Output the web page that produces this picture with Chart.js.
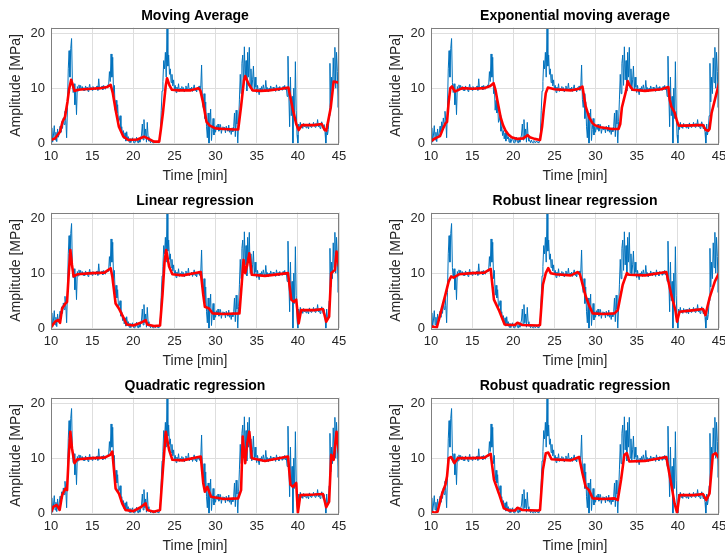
<!DOCTYPE html>
<html>
<head>
<meta charset="utf-8">
<script src="https://cdn.jsdelivr.net/npm/chart.js@4.4.0/dist/chart.umd.min.js"></script>
<style>
  html, body { margin: 0; padding: 0; background: #fff; }
  #wrap { position: relative; width: 725px; height: 560px; overflow: hidden; }
  #wrap canvas { position: absolute; }
</style>
</head>
<body>
<div id="wrap">
  <canvas id="p0"></canvas><canvas id="p1"></canvas>
  <canvas id="p2"></canvas><canvas id="p3"></canvas>
  <canvas id="p4"></canvas><canvas id="p5"></canvas>
</div>
<script>
'use strict';

// ---- data -------------------------------------------------------------
const xTicks = [10, 15, 20, 25, 30, 35, 40, 45];
const yTicks = [0, 10, 20];

// raw signal, sampled every 0.1 min from t = 10 (one row per minute)
const rawStart = 10;
const rawStep = 0.1;
const rawAmp = [
  0.5, 2.8, 0.2, 1.5, 3.2, 0.6, 2.0, 0.3, 2.6, 1.1,
  1.8, 3.1, 2.0, 3.9, 2.7, 4.6, 3.4, 5.8, 4.1, 1.0,
  6.5, 13.5, 16.8, 12.0, 17.2, 19.0, 11.0, 9.2, 10.8, 7.0,
  9.4, 5.2, 10.3, 9.5, 10.6, 9.8, 10.5, 9.7, 10.3, 9.6,
  10.1, 9.5, 10.4, 9.9, 10.2, 9.4, 10.0, 10.7, 9.8, 10.1,
  9.6, 10.3, 9.9, 10.0, 9.7, 10.2, 10.4, 9.6, 11.7, 9.8,
  10.2, 9.9, 10.4, 9.7, 10.5, 10.1, 9.8, 10.4, 10.2, 10.6,
  10.3, 13.0, 11.2, 16.2, 12.0, 15.6, 9.0, 10.5, 6.0, 7.8,
  5.5, 7.0, 3.8, 4.2, 5.0, 2.2, 3.0, 1.4, 2.3, 0.8,
  1.9, 0.4, 2.1, 0.8, 1.2, 0.2, 0.9, 0.1, 0.6, 1.0,
  0.4, 0.0, 0.8, 0.3, 1.1, 0.4, 0.0, 0.7, 0.2, 0.9,
  1.5, 3.5, 0.6, 4.3, 1.0, 2.6, 0.2, 3.8, 1.2, 0.4,
  0.5, 0.1, 0.6, 0.2, 0.0, 0.5, 0.3, 0.1, 0.4, 0.2,
  0.3, 0.0, 0.5, 2.0, 6.0, 9.5, 11.2, 15.0, 13.5, 16.5,
  12.0, 20.9, 14.0, 16.0, 12.5, 13.5, 11.0, 12.5, 10.4, 11.5,
  9.8, 10.5, 9.2, 10.2, 9.6, 10.8, 9.4, 10.0, 9.7, 10.3,
  9.5, 10.1, 9.3, 9.9, 10.4, 9.6, 9.8, 10.9, 9.5, 10.0,
  9.7, 10.2, 9.4, 9.9, 10.6, 9.6, 10.0, 9.3, 10.1, 9.8,
  10.4, 9.6, 10.2, 14.2, 8.0, 6.5, 9.0, 4.5, 7.5, 3.0,
  1.0, 5.5, 0.0, 3.5, 6.2, 0.5, 2.5, 4.5, 1.5, 3.0,
  2.0, 3.2, 2.5, 3.5, 2.2, 2.8, 3.4, 1.8, 2.6, 3.0,
  2.4, 2.9, 1.9, 3.1, 2.6, 2.2, 3.3, 2.0, 2.7, 1.6,
  2.8, 2.1, 3.0, 5.5, 1.2, 6.0, 3.5, 0.0, 4.0, 8.0,
  12.5, 9.0, 14.5, 16.0, 10.5, 17.5, 11.5, 15.0, 9.5, 16.5,
  12.0, 17.4, 10.0, 13.5, 9.5, 11.5, 14.0, 9.8, 12.0, 10.2,
  9.2, 10.5, 9.5, 8.8, 10.0, 9.6, 10.3, 9.4, 10.6, 9.8,
  9.5, 11.4, 9.7, 10.1, 9.3, 10.0, 9.6, 10.4, 9.9, 9.5,
  10.2, 9.7, 10.0, 9.4, 10.6, 9.8, 10.1, 9.5, 10.3, 9.9,
  10.0, 9.6, 10.3, 9.8, 10.5, 9.7, 10.1, 8.5, 15.8, 9.0,
  3.0, 12.0, 5.0, 8.5, 0.0, 10.0, 4.5, 14.8, 6.0, 1.5,
  0.0, 3.5, 2.5, 3.8, 2.9, 3.3, 2.7, 3.6, 3.0, 3.4,
  2.8, 3.5, 3.1, 2.6, 3.7, 3.2, 2.9, 3.4, 3.1, 3.8,
  3.3, 2.9, 3.6, 3.1, 4.3, 3.0, 3.5, 2.7, 3.3, 3.9,
  3.2, 2.6, 3.4, 2.0, 0.0, 3.5, 1.5, 2.5, 5.0, 14.5,
  7.5, 12.0, 9.0, 15.5, 11.0, 17.4, 10.0, 16.5, 13.0, 6.5,
  11.0
];

// smoothed curves, [time, amplitude]
const movingAvg = [[10,0.6],[10.5,0.9],[11.1,2.1],[11.4,3.9],[11.7,4.8],[12.0,7.5],[12.2,9.8],[12.45,11.5],[12.6,10.8],[12.85,9.5],[13.3,9.7],[14,9.8],[15,9.9],[16,10.0],[16.8,10.2],[17.25,10.6],[17.5,9.2],[17.85,6.1],[18.25,3.0],[18.8,1.2],[19.4,0.6],[20.5,0.7],[21.3,1.2],[22.0,0.7],[22.5,0.3],[23.15,0.3],[23.35,2.5],[23.6,5.5],[23.95,10.5],[24.1,11.8],[24.4,10.5],[24.7,9.7],[25.5,9.6],[27,9.6],[27.9,10.0],[28.15,9.6],[28.45,7.6],[28.9,3.9],[29.3,3.2],[30.0,2.7],[31,2.6],[32.3,2.5],[32.75,2.5],[33.1,6.7],[33.45,11.4],[33.6,12.2],[34.0,10.8],[34.5,9.6],[35.5,9.5],[36.5,9.6],[38,9.9],[38.85,10.1],[39.4,6.1],[39.8,3.5],[40.1,2.4],[40.5,3.3],[42,3.3],[42.9,3.5],[43.25,2.4],[43.45,2.3],[43.7,4.2],[44.0,6.5],[44.35,11.2],[45,11.0]];
const expAvg = [[10,0.4],[10.5,0.9],[11.1,1.3],[11.5,2.8],[11.75,3.6],[11.95,3.9],[12.15,7.5],[12.35,10.0],[12.55,10.3],[12.9,9.4],[13.2,9.6],[13.8,10.0],[15,9.9],[16.5,10.0],[17.2,10.4],[17.6,10.9],[17.85,9.6],[18.05,7.9],[18.45,4.8],[18.75,3.3],[19.05,2.3],[19.4,1.6],[19.8,1.1],[20.5,0.8],[21.2,0.9],[21.6,1.3],[21.75,1.5],[22.0,1.1],[22.6,0.8],[23.25,0.6],[23.5,3.0],[23.7,6.0],[23.95,9.1],[24.2,10.1],[25,9.8],[27,9.6],[28.0,9.9],[28.4,10.3],[28.8,6.7],[29.2,4.8],[29.6,3.7],[29.9,3.3],[30.6,2.9],[32,2.6],[32.8,2.6],[33.0,3.5],[33.2,6.5],[33.45,8.0],[33.7,9.5],[33.9,11.3],[34.1,10.6],[34.5,9.7],[36,9.5],[38,9.8],[38.85,10.2],[39.0,8.0],[39.2,6.7],[39.6,5.6],[39.9,4.0],[40.1,3.2],[41,3.2],[42.5,3.3],[43.05,3.3],[43.4,2.4],[43.7,2.3],[43.85,2.6],[44.1,5.5],[44.3,6.7],[44.6,8.5],[45,10.9]];
const linReg = [[10,0.2],[10.5,1.2],[10.9,1.5],[11.1,1.0],[11.35,3.6],[11.75,4.5],[11.95,4.8],[12.15,9.7],[12.35,14.2],[12.55,11.5],[12.75,9.4],[13.2,9.8],[15,10.0],[16.5,10.1],[17.25,10.9],[17.45,9.4],[17.85,4.5],[18.25,3.6],[18.85,1.8],[19.2,0.7],[20,0.5],[20.9,1.0],[21.5,1.5],[21.7,0.7],[22.5,0.4],[23.25,0.5],[23.55,6.1],[23.8,12.1],[24.0,14.2],[24.35,11.2],[24.75,9.8],[26,9.6],[28.2,10.2],[28.5,6.1],[28.7,3.9],[29.2,3.6],[29.65,2.7],[31,2.6],[32.9,2.7],[33.2,8.5],[33.4,12.4],[33.6,10.0],[33.85,11.5],[34.1,13.6],[34.4,9.7],[36,9.5],[38.8,10.0],[39.2,5.2],[39.5,4.8],[39.8,5.2],[40.1,0.9],[40.4,3.3],[42,3.3],[43.05,3.5],[43.45,1.2],[43.8,2.1],[44.05,10.0],[44.5,10.6],[44.7,13.9],[45,11.2]];
const robustLin = [[10,0.3],[10.3,0.3],[10.7,0.1],[11.1,2.4],[11.75,6.1],[12.15,8.5],[12.45,9.4],[12.75,9.2],[13.4,9.8],[15,10.0],[16.5,10.1],[17.25,10.8],[17.65,5.2],[18.25,3.3],[18.95,0.7],[19.5,0.6],[20.2,0.6],[20.5,1.0],[21.1,0.6],[23,0.5],[23.25,0.6],[23.6,7.9],[23.95,10.0],[24.25,10.9],[24.55,10.0],[25.15,9.8],[27,9.6],[27.8,10.2],[28.1,9.8],[28.8,5.8],[29.2,4.2],[29.65,2.7],[31,2.6],[32.3,2.7],[32.7,3.3],[33.3,7.9],[33.8,10.0],[34.1,9.7],[36,9.6],[38.6,10.2],[39.2,6.1],[39.7,3.3],[39.9,1.2],[40.2,3.0],[42,3.3],[43.05,3.5],[43.35,2.4],[43.85,5.5],[44.5,8.5],[45,10.0]];
const quadReg = [[10,0.2],[10.3,1.2],[10.7,1.5],[11.05,0.6],[11.35,3.3],[11.75,4.5],[11.95,4.2],[12.15,10.3],[12.35,14.8],[12.55,11.8],[12.85,9.1],[13.2,9.8],[15,10.0],[16.5,10.1],[17.2,10.6],[17.45,11.2],[17.65,7.9],[17.85,4.5],[18.25,3.6],[18.65,1.8],[19.05,0.6],[20,0.4],[20.9,1.1],[21.5,1.8],[21.7,0.6],[22.5,0.3],[23.25,0.6],[23.6,7.9],[23.95,14.8],[24.35,11.5],[24.75,9.7],[26,9.6],[28.2,10.3],[28.5,5.5],[28.7,3.9],[29.0,4.8],[29.45,3.0],[31,2.6],[32.75,2.7],[33.1,4.2],[33.3,13.9],[33.6,9.1],[33.85,12.7],[34.1,14.8],[34.4,10.0],[36,9.5],[38.8,10.3],[39.1,5.2],[39.4,4.8],[39.8,5.5],[40.0,0.1],[40.3,3.3],[42,3.4],[43.05,3.5],[43.45,1.1],[43.8,2.1],[44.05,10.6],[44.35,9.7],[44.7,14.8],[45,10.9]];
const robustQuad = [[10,0.3],[10.5,0.1],[10.8,0.3],[11.35,3.6],[11.75,5.2],[11.95,6.7],[12.15,10.0],[12.45,10.2],[12.85,9.1],[13.25,10.0],[15,10.0],[16.5,10.1],[17.25,10.8],[17.65,6.1],[18.25,3.6],[18.85,0.9],[19.5,0.5],[20.2,0.5],[20.5,1.0],[21.1,0.6],[23,0.5],[23.25,0.6],[23.6,7.9],[23.95,10.9],[24.25,11.0],[24.65,9.8],[27,9.6],[28.0,10.2],[28.4,7.3],[28.8,4.8],[29.2,4.2],[29.65,2.7],[31,2.6],[32.3,2.7],[32.7,2.4],[33.1,6.1],[33.5,10.6],[33.8,10.9],[34.1,9.4],[36,9.5],[38.6,10.2],[39.1,6.1],[39.6,1.8],[39.9,0.1],[40.2,3.3],[42,3.3],[43.05,3.5],[43.45,2.4],[43.85,3.6],[44.25,10.6],[44.6,10.9],[45,10.0]];

const titles = ['Moving Average', 'Exponential moving average', 'Linear regression',
  'Robust linear regression', 'Quadratic regression', 'Robust quadratic regression'];
const fits = [movingAvg, expAvg, linReg, robustLin, quadReg, robustQuad];

// ---- layout -------------------------------------------------------------
const PANEL_W = 362;
const PANEL_H = 185;
const PLOT_TOP = 27.5;      // top of axes box inside a panel
const PLOT_BOTTOM = 143.3;  // bottom of axes box inside a panel
const PLOT_RIGHT = 339;
const Y_AXIS_W = 51;
const colLeft = [0, 380];   // right column canvas runs past the page edge and is clipped

const FONT = '"Liberation Sans", Arial, Helvetica, sans-serif';
Chart.defaults.font.family = FONT;
Chart.defaults.color = '#262626';

const rawXY = rawAmp.map((v, i) => ({ x: Math.round((rawStart + i * rawStep) * 10) / 10, y: v }));

const panelTitle = {
  id: 'panelTitle',
  afterDraw(chart, args, opts) {
    const { ctx, chartArea: a } = chart;
    ctx.save();
    ctx.font = 'bold 14px ' + FONT;
    ctx.fillStyle = '#000';
    ctx.textAlign = 'center';
    ctx.textBaseline = 'middle';
    ctx.fillText(opts.text, (a.left + a.right) / 2, 16);
    ctx.restore();
  }
};

const axesBox = {
  id: 'axesBox',
  afterDatasetsDraw(chart) {
    const { ctx, chartArea: a } = chart;
    ctx.save();
    ctx.strokeStyle = '#7f7f7f';
    ctx.lineWidth = 1;
    ctx.strokeRect(Math.round(a.left) + 0.5, Math.round(a.top) + 0.5,
      Math.round(a.right - a.left) - 1, Math.round(a.bottom - a.top));
    ctx.restore();
  }
};

function makePanel(i) {
  const canvas = document.getElementById('p' + i);
  canvas.width = PANEL_W;
  canvas.height = PANEL_H;
  canvas.style.left = colLeft[i % 2] + 'px';
  canvas.style.top = (Math.floor(i / 2) * PANEL_H) + 'px';
  canvas.style.width = PANEL_W + 'px';
  canvas.style.height = PANEL_H + 'px';

  return new Chart(canvas, {
    type: 'line',
    data: {
      datasets: [
        { data: fits[i].map(p => ({ x: p[0], y: p[1] })), borderColor: '#ff0000', borderWidth: 2.6,
          pointRadius: 0, tension: 0, borderJoinStyle: 'round', borderCapStyle: 'round' },
        { data: rawXY, borderColor: '#0072bd', borderWidth: 1, pointRadius: 0, tension: 0 }
      ]
    },
    options: {
      responsive: false,
      animation: false,
      events: [],
      parsing: false,
      layout: { padding: { left: 0, right: PANEL_W - PLOT_RIGHT, top: PLOT_TOP, bottom: 0 } },
      plugins: { legend: { display: false }, tooltip: { enabled: false }, panelTitle: { text: titles[i] } },
      scales: {
        x: {
          type: 'linear', min: 10, max: 45,
          afterBuildTicks: s => { s.ticks = xTicks.map(v => ({ value: v })); },
          afterFit: s => { s.height = PANEL_H - PLOT_BOTTOM; },
          grid: { color: '#dedede', drawTicks: false },
          border: { display: false },
          ticks: { font: { size: 13 }, padding: 5, maxRotation: 0, color: '#262626' },
          title: { display: true, text: 'Time [min]', font: { size: 14 }, padding: 0, color: '#262626' }
        },
        y: {
          type: 'linear', min: 0, max: 21,
          afterBuildTicks: s => { s.ticks = yTicks.map(v => ({ value: v })); },
          afterFit: s => { s.width = Y_AXIS_W; },
          grid: { color: '#dedede', drawTicks: false },
          border: { display: false },
          ticks: { font: { size: 13 }, padding: 6, color: '#262626' },
          title: { display: true, text: 'Amplitude [MPa]', font: { size: 14 }, padding: { top: 7.5, bottom: 0 }, color: '#262626' }
        }
      }
    },
    plugins: [panelTitle, axesBox]
  });
}

titles.forEach((_, i) => makePanel(i));
</script>
</body>
</html>
